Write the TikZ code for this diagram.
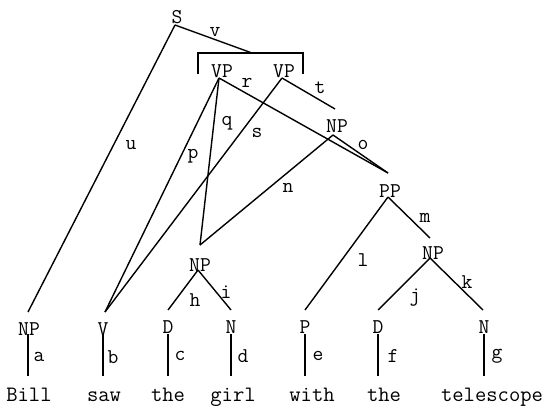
\documentclass[tikz,border=0pt]{standalone}
\begin{document}
\begin{tikzpicture}[x=1pt,y=-1pt,
  cat/.style={inner sep=0pt,font=\ttfamily\fontsize{21}{21}\selectfont},
  lab/.style={inner sep=0pt,font=\ttfamily\fontsize{21}{21}\selectfont},
  word/.style={inner sep=0pt,anchor=base,font=\ttfamily\fontsize{22}{22}\selectfont},
  edge/.style={line width=1.4pt}]
\useasboundingbox (0,0) rectangle (545,406);
% category labels
\node[cat] (S) at (177,17) {S};
\node[cat] (VPa) at (222,71) {VP};
\node[cat] (VPb) at (284,71) {VP};
\node[cat] (NPh) at (337,126) {NP};
\node[cat] (PP) at (390,191) {PP};
\node[cat] (NPg) at (200,265) {NP};
\node[cat] (NPt) at (433,253) {NP};
\node[cat] (NPb) at (29,329) {NP};
\node[cat] (V) at (103,329) {V};
\node[cat] (Da) at (168,327) {D};
\node[cat] (Na) at (231,327) {N};
\node[cat] (P) at (305,327) {P};
\node[cat] (Db) at (378,327) {D};
\node[cat] (Nb) at (484,327) {N};
% words
\node[word] (w1) at (29,401) {Bill};
\node[word] (w2) at (104,401) {saw};
\node[word] (w3) at (168,401) {the};
\node[word] (w4) at (233,401) {girl};
\node[word] (w5) at (312,401) {with};
\node[word] (w6) at (384,401) {the};
\node[word] (w7) at (492,401) {telescope};
% anchor points
\coordinate (Sb) at (175,25);
\coordinate (Br) at (252,53);
\coordinate (VPab) at (219,78);
\coordinate (VPbb) at (282,78);
\coordinate (tend) at (335,109);
\coordinate (NPhb) at (333,135);
\coordinate (PPt) at (388,173);
\coordinate (PPb) at (388,197);
\coordinate (NPgt) at (200,245);
\coordinate (NPgb) at (198,270);
\coordinate (NPtt) at (430,238);
\coordinate (NPtb) at (430,258);
\coordinate (NPbt) at (28,312);
\coordinate (Vt) at (105,312);
\coordinate (Dat) at (168,310);
\coordinate (Nat) at (231,310);
\coordinate (Pt) at (305,310);
\coordinate (Dbt) at (378,310);
\coordinate (Nbt) at (483,310);
% bracket
\draw[edge] (198,74) -- (198,53) -- (303,53) -- (303,74);
% edges
\draw[edge] (Sb) -- (NPbt);
\draw[edge] (Sb) -- (Br);
\draw[edge] (VPab) -- (Vt);
\draw[edge] (VPab) -- (NPgt);
\draw[edge] (VPab) -- (PPt);
\draw[edge] (VPbb) -- (Vt);
\draw[edge] (VPbb) -- (tend);
\draw[edge] (NPhb) -- (PPt);
\draw[edge] (NPhb) -- (NPgt);
\draw[edge] (PPb) -- (Pt);
\draw[edge] (PPb) -- (NPtt);
\draw[edge] (NPgb) -- (Dat);
\draw[edge] (NPgb) -- (Nat);
\draw[edge] (NPtb) -- (Dbt);
\draw[edge] (NPtb) -- (Nbt);
\foreach \n/\x in {NPb/28,V/103,Da/168,Na/231,P/305,Db/378,Nb/484}{
  \draw[edge] (\x,334) -- (\x,376);
}
% edge labels
\node[lab] (lu) at (131,145) {u};
\node[lab] (lv) at (215,32) {v};
\node[lab] (lp) at (193,156) {p};
\node[lab] (lq) at (227,123) {q};
\node[lab] (lr) at (247,83) {r};
\node[lab] (ls) at (257,133) {s};
\node[lab] (lt) at (320,88) {t};
\node[lab] (lo) at (363,145) {o};
\node[lab] (ln) at (288,188) {n};
\node[lab] (ll) at (363,260) {l};
\node[lab] (lm) at (425,218) {m};
\node[lab] (lh) at (195,300) {h};
\node[lab] (li) at (226,292) {i};
\node[lab] (lj) at (415,298) {j};
\node[lab] (lk) at (467,282) {k};
\node[lab] (la) at (39,357) {a};
\node[lab] (lb) at (113,357) {b};
\node[lab] (lc) at (180,356) {c};
\node[lab] (ld) at (243,356) {d};
\node[lab] (le) at (318,356) {e};
\node[lab] (lf) at (393,356) {f};
\node[lab] (lg) at (497,356) {g};
\end{tikzpicture}
\end{document}
